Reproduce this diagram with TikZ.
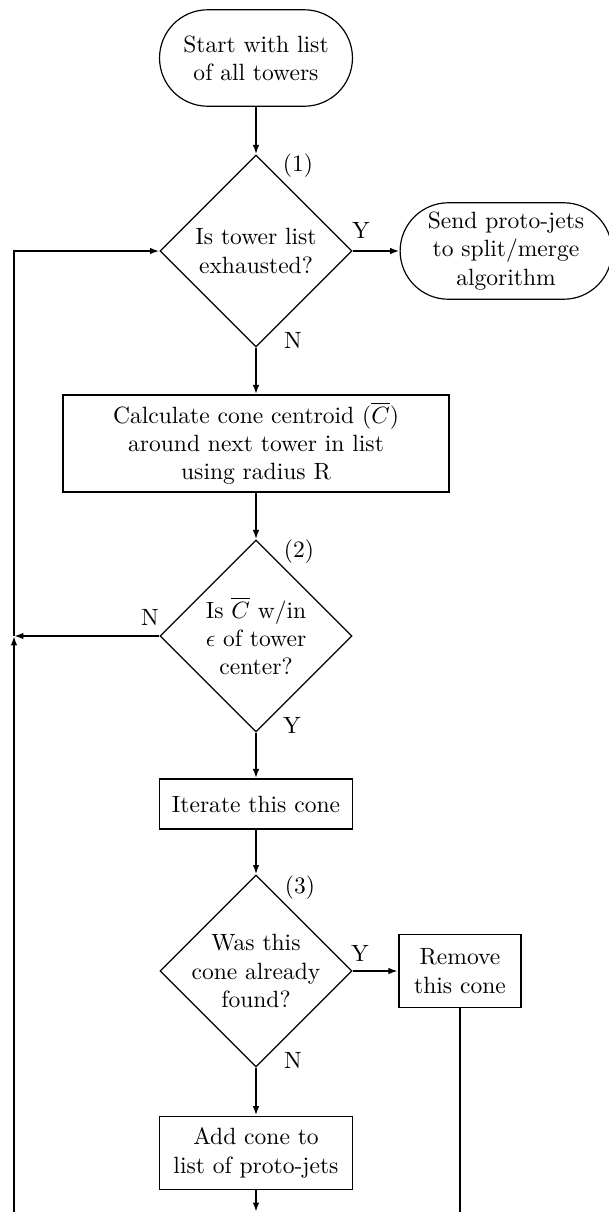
\documentclass[tikz,border=0pt]{standalone}
\usepackage{amsmath}
\usepackage{amssymb}
\usetikzlibrary{shapes.geometric,shapes.misc,arrows.meta}

\begin{document}
\begin{tikzpicture}[x=0.425pt,y=-0.425pt,
  term/.style={rounded rectangle,draw,line width=0.5pt,align=center,inner sep=0pt},
  box/.style={rectangle,draw,line width=0.8pt,align=center,inner sep=0pt},
  test/.style={diamond,draw,line width=0.5pt,inner sep=0pt,minimum width=81.6pt,minimum height=81.6pt},
  arr/.style={line width=0.8pt,-{Latex[length=4pt,width=2.8pt]}},
  wire/.style={line width=0.8pt}]
\useasboundingbox (0,0) rectangle (608,1212);
\node [term,minimum width=82pt,minimum height=41pt] (start) at (256,58) {Start with list\\of all towers};
\node [test,label={[align=center]center:Is tower list\\exhausted?}] (d1) at (256,251) {};
\node [term,minimum width=90pt,minimum height=41pt] (send) at (506,251) {Send proto-jets\\to split/merge\\algorithm};
\node [box,minimum width=164pt,minimum height=41pt] (calc) at (256,443.5) {Calculate cone centroid ($\overline{C}$)\\around next tower in list\\using radius R};
\node [test,label={[align=center]center:Is $\overline{C}$ w/in\\$\epsilon$ of tower\\center?}] (d2) at (256,636) {};
\node [box,minimum width=82pt,minimum height=21pt] (iter) at (256,804) {Iterate this cone};
\node [test,label={[align=center]center:Was this\\cone already\\found?}] (d3) at (256,971) {};
\node [box,minimum width=52pt,minimum height=31pt] (remove) at (460,971) {Remove\\this cone};
\node [box,minimum width=82pt,minimum height=31pt] (add) at (256,1153) {Add cone to\\list of proto-jets};
\node (n1) at (298,166) {(1)};
\node (n2) at (299,552) {(2)};
\node (n3) at (300,888) {(3)};
\node (y1) at (361,230) {Y};
\node (no1) at (293,340) {N};
\node (no2) at (150,617) {N};
\node (y2) at (292,725) {Y};
\node (y3) at (360,953) {Y};
\node (no3) at (293,1060) {N};
\coordinate (loop) at (14,636);
\coordinate (lbot) at (14,1212);
\coordinate (rbot) at (460,1212);
\coordinate (abot) at (256,1212);
\draw [arr] (start) -- (d1);
\draw [arr] (d1) -- (send);
\draw [arr] (d1) -- (calc);
\draw [arr] (calc) -- (d2);
\draw [arr] (d2) -- (iter);
\draw [arr] (iter) -- (d3);
\draw [arr] (d3) -- (remove);
\draw [arr] (d3) -- (add);
\draw [arr] (d2.west) -- (loop);
\draw [arr] (lbot) -- (loop);
\draw [arr] (loop) |- (d1.west);
\draw [wire] (remove) -- (rbot);
\draw [arr] (add) -- (abot);
\end{tikzpicture}
\end{document}
